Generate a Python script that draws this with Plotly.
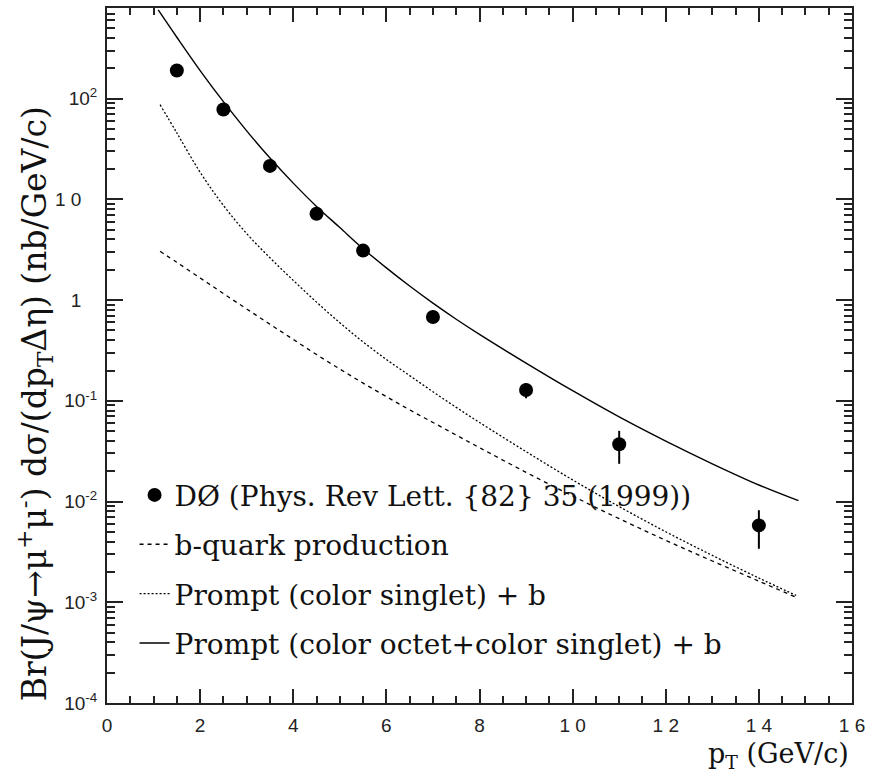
import plotly.graph_objects as go

# ---- data ----
d0_pt = [1.5, 2.5, 3.5, 4.5, 5.5, 7.0, 9.0, 11.0, 14.0]
d0_xsec = [190, 78, 21.5, 7.2, 3.1, 0.68, 0.128, 0.037, 0.0058]
d0_err = [0, 0, 0, 0, 0, 0, 0.022, 0.0133, 0.0024]

solid_pt = [1.1, 1.5, 2.0, 2.5, 3.0, 3.5, 4.0, 4.5, 5.0, 5.5, 6.0, 6.5, 7.0, 7.5, 8.0, 9.0, 10.0, 11.0, 12.0, 13.0, 14.0, 14.85]
solid_xsec = [760, 407, 190, 93.3, 47.9, 25.7, 14.5, 8.51, 5.25, 3.24, 2.09, 1.38, 0.933, 0.646, 0.457, 0.237, 0.126, 0.0692, 0.0398, 0.0237, 0.0146, 0.0102]

dotted_pt = [1.14, 1.5, 2.0, 2.5, 3.0, 3.5, 4.0, 4.5, 5.0, 5.5, 6.0, 6.5, 7.0, 7.5, 8.0, 9.0, 10.0, 11.0, 12.0, 13.0, 14.0, 14.8]
dotted_xsec = [87.1, 45.7, 18.6, 8.71, 4.57, 2.63, 1.57, 0.955, 0.596, 0.385, 0.257, 0.178, 0.123, 0.0861, 0.0610, 0.0313, 0.0164, 0.00891, 0.00501, 0.00292, 0.00174, 0.00117]

dashed_pt = [1.14, 1.5, 2.0, 2.5, 3.0, 3.5, 4.0, 4.5, 5.0, 5.5, 6.0, 6.5, 7.0, 7.5, 8.0, 9.0, 10.0, 11.0, 12.0, 13.0, 14.0, 14.8]
dashed_xsec = [3.05, 2.37, 1.66, 1.16, 0.817, 0.575, 0.407, 0.288, 0.207, 0.150, 0.110, 0.0813, 0.0610, 0.0457, 0.0343, 0.0195, 0.01135, 0.00676, 0.00412, 0.00257, 0.00162, 0.00112]

legend_names = [
    "DØ (Phys. Rev Lett. {82} 35 (1999))",
    "b-quark production",
    "Prompt (color singlet) + b",
    "Prompt (color octet+color singlet) + b",
]

NB = "\u00a0"
x_tickvals = [0, 2, 4, 6, 8, 10, 12, 14, 16]
x_ticktext = ["0", "2", "4", "6", "8", "1 0", "1 2", "1 4", "1 6"]
y_tickvals = [1e-4, 1e-3, 1e-2, 1e-1, 1, 10, 100]
y_ticktext = ["10<sup>-4</sup>", "10<sup>-3</sup>", "10<sup>-2</sup>", "10<sup>-1</sup>",
              "1" + NB * 3, "1 0" + NB * 3, "10<sup>2</sup>"]

x_title = "p<sub>T</sub> (GeV/c)"
y_title = "Br(J/ψ→μ<sup>+</sup>μ<sup>-</sup>) dσ/(dp<sub>T</sub>Δη) (nb/GeV/c)"

SERIF = "DejaVu Serif, Liberation Serif, serif"
SANS = "Liberation Sans, Arial, sans-serif"

# ---- figure ----
fig = go.Figure()
fig.add_trace(go.Scatter(
    x=d0_pt, y=d0_xsec, mode="markers", name=legend_names[0], legendgroup="a",
    marker=dict(symbol="circle", size=14, color="black"),
    error_y=dict(type="data", array=d0_err, visible=True, thickness=2, width=0, color="black"),
))
fig.add_trace(go.Scatter(
    x=dashed_pt, y=dashed_xsec, mode="lines", name=legend_names[1], legendgroup="b",
    line=dict(color="black", width=1.3, dash="4px,4px", shape="spline", smoothing=1.0),
))
fig.add_trace(go.Scatter(
    x=dotted_pt, y=dotted_xsec, mode="lines", name=legend_names[2], legendgroup="c",
    line=dict(color="black", width=1.3, dash="2px,2px", shape="spline", smoothing=1.0),
))
fig.add_trace(go.Scatter(
    x=solid_pt, y=solid_xsec, mode="lines", name=legend_names[3], legendgroup="d",
    line=dict(color="black", width=1.4, shape="spline", smoothing=1.0),
))

y_minor = [k * 10.0 ** e for e in range(-4, 3) for k in range(2, 10)]

fig.update_layout(
    width=876, height=774,
    margin=dict(l=107, r=24, t=6, b=71),
    paper_bgcolor="white", plot_bgcolor="white",
    showlegend=True,
    legend=dict(
        x=0.037, y=0.335, xanchor="left", yanchor="top",
        bgcolor="rgba(0,0,0,0)", borderwidth=0,
        font=dict(family=SERIF, size=28, color="#111"),
        tracegroupgap=10, itemwidth=30,
    ),
    font=dict(family=SANS, size=18, color="#222"),
)

fig.update_xaxes(
    range=[0, 16], tickmode="array", tickvals=x_tickvals, ticktext=x_ticktext,
    ticks="inside", ticklen=14, tickwidth=1.5, tickcolor="#222",
    showline=True, linecolor="#222", linewidth=2, mirror="allticks",
    showgrid=False, zeroline=False,
    minor=dict(tickmode="linear", tick0=0, dtick=0.5, ticks="inside", ticklen=7, tickwidth=1.5, tickcolor="#222", showgrid=False),
    tickfont=dict(family=SANS, size=19, color="#222"),
    ticklabelstandoff=4,
)
fig.update_yaxes(
    type="log", range=[-4, 2.9], tickmode="array", tickvals=y_tickvals, ticktext=y_ticktext,
    ticks="inside", ticklen=16, tickwidth=1.5, tickcolor="#222",
    showline=True, linecolor="#222", linewidth=2, mirror="allticks",
    showgrid=False, zeroline=False,
    minor=dict(tickmode="array", tickvals=y_minor, ticks="inside", ticklen=8, tickwidth=1.5, tickcolor="#222", showgrid=False),
    tickfont=dict(family=SANS, size=19, color="#222"),
    ticklabelstandoff=4,
)

fig.add_annotation(
    text=y_title, xref="paper", yref="paper", x=-0.097, y=0.431,
    xanchor="center", yanchor="middle", textangle=-90, showarrow=False,
    font=dict(family=SERIF, size=33, color="#111"),
)
fig.add_annotation(
    text=x_title, xref="paper", yref="paper", x=0.998, y=-0.076,
    xanchor="right", yanchor="middle", showarrow=False,
    font=dict(family=SERIF, size=27, color="#111"),
)

fig.write_html("out.html", config={"displayModeBar": False},
               post_script="document.body.style.margin='0px';")
